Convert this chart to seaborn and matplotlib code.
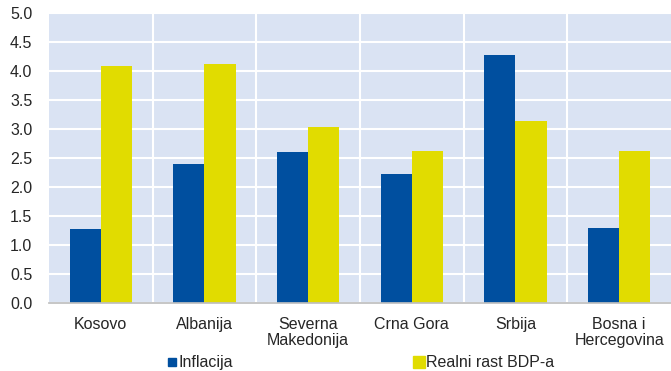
import seaborn as sns
import matplotlib.pyplot as plt
import pandas as pd
from matplotlib.lines import Line2D

# Data
countries = ["Kosovo", "Albanija", "Severna\nMakedonija", "Crna Gora", "Srbija", "Bosna i\nHercegovina"]
inflacija = [1.27, 2.40, 2.60, 2.23, 4.27, 1.30]
rast_bdp = [4.08, 4.12, 3.03, 2.63, 3.13, 2.63]
series = ["Inflacija", "Realni rast BDP-a"]
colors = ["#004f9f", "#e1dc00"]

df = pd.DataFrame({
    "country": countries * 2,
    "value": inflacija + rast_bdp,
    "series": [series[0]] * len(countries) + [series[1]] * len(countries),
})

sns.set_theme(style="white")
plt.rcParams["font.family"] = ["Liberation Sans", "DejaVu Sans"]
fs = 11.5

fig = plt.figure(figsize=(6.71, 3.71), dpi=100)
ax = fig.add_axes([0.073, 0.183, 0.927, 0.782])
ax.set_facecolor("#dae3f3")

sns.barplot(data=df, x="country", y="value", hue="series", palette=colors,
            width=0.6, gap=0, saturation=1, linewidth=0, ax=ax, legend=False, zorder=3)

ax.set_ylim(0, 5)
ax.set_xlim(-0.5, len(countries) - 0.5)
ax.set_yticks([i * 0.5 for i in range(11)])
ax.set_yticklabels([f"{i * 0.5:.1f}" for i in range(11)], fontsize=fs)
ax.set_xticks(range(len(countries)))
ax.set_xticklabels(countries, fontsize=fs, linespacing=1.1)
ax.set_xticks([i + 0.5 for i in range(len(countries) - 1)], minor=True)
ax.grid(axis="y", color="white", linewidth=1.5, zorder=1)
ax.grid(axis="x", which="minor", color="white", linewidth=1.5, zorder=1)
ax.tick_params(axis="x", which="both", length=0, pad=10)
ax.tick_params(axis="y", which="both", length=0, pad=12)
ax.set_xlabel("")
ax.set_ylabel("")
for s in ["top", "right", "left"]:
    ax.spines[s].set_visible(False)
ax.spines["bottom"].set_color("#bfbfbf")
ax.spines["bottom"].set_zorder(4)

handles = [
    Line2D([], [], marker="s", linestyle="", markersize=6, color=colors[0]),
    Line2D([], [], marker="s", linestyle="", markersize=9, color=colors[1]),
]
fig.legend(handles, series, loc="center", bbox_to_anchor=(0.537, 0.022), ncol=2,
           frameon=False, fontsize=fs, handletextpad=0.05, columnspacing=11.3,
           handlelength=0.7, borderaxespad=0)

fig.savefig("out.png", dpi=100)
